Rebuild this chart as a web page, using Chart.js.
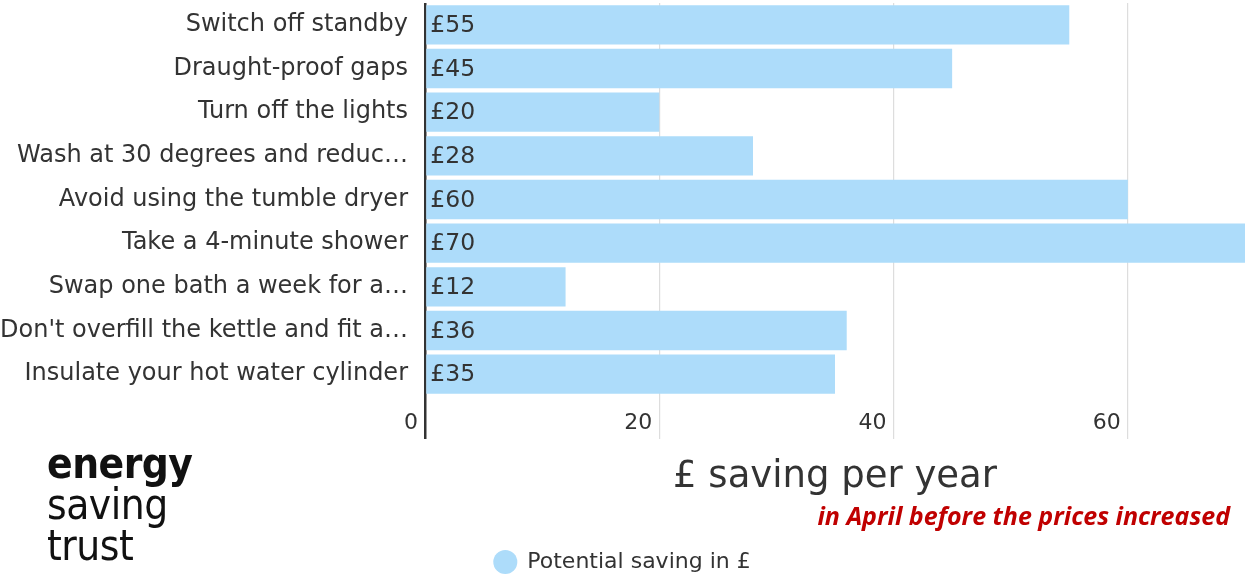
<!DOCTYPE html>
<html lang="en">
<head>
    <meta charset="UTF-8">
    <title>Energy saving tips</title>
    <script src="https://cdn.jsdelivr.net/npm/chart.js"></script>
    <style>
        html, body { margin: 0; padding: 0; background: #fff; }
        .tudo { position: relative; width: 1245px; height: 579px; overflow: hidden; }
        #grafico_poupanca { position: absolute; left: 0; top: 0; }
        .logo { position: absolute; left: 47px; top: 443px; font-family: "DejaVu Sans Condensed", "DejaVu Sans", sans-serif; font-size: 42px; line-height: 41px; color: #111; letter-spacing: -0.5px; }
        .logo b { font-weight: bold; }
        .aviso { position: absolute; right: 15px; top: 498px; font-family: "Open Sans", sans-serif; font-size: 25px; font-weight: bold; font-style: italic; color: #c00000; }
    </style>
</head>
<body>
<div class="tudo">
    <canvas id="grafico_poupanca" width="1245" height="579"></canvas>
    <div class="logo"><b>energy</b><br>saving<br>trust</div>
    <div class="aviso">in April before the prices increased</div>
</div>
<script>
    // dados do grafico
    const categorias = [
        'Switch off standby',
        'Draught-proof gaps',
        'Turn off the lights',
        'Wash at 30 degrees and reduc…',
        'Avoid using the tumble dryer',
        'Take a 4-minute shower',
        'Swap one bath a week for a…',
        "Don't overfill the kettle and fit a…",
        'Insulate your hot water cylinder'
    ];
    const economia = [55, 45, 20, 28, 60, 70, 12, 36, 35];
    const ticksX = [0, 20, 40, 60];

    const fonte = '"DejaVu Sans", sans-serif';
    const corTexto = '#333333';

    // escreve o valor em £ dentro de cada barra
    const rotulos = {
        id: 'rotulos',
        afterDatasetsDraw(chart) {
            const ctx = chart.ctx;
            const meta = chart.getDatasetMeta(0);
            ctx.save();
            ctx.font = '23.5px ' + fonte;
            ctx.fillStyle = corTexto;
            ctx.textAlign = 'left';
            ctx.textBaseline = 'middle';
            meta.data.forEach(function (barra, i) {
                ctx.fillText('£' + economia[i], barra.base + 4, barra.y + 1);
            });
            ctx.restore();
        }
    };

    const config = {
        type: 'bar',
        data: {
            labels: categorias,
            datasets: [{
                label: 'Potential saving in £',
                data: economia,
                backgroundColor: '#addcfa',
                borderWidth: 0,
                barPercentage: 1,
                categoryPercentage: 0.9
            }]
        },
        options: {
            indexAxis: 'y',
            responsive: false,
            animation: false,
            layout: { padding: { top: 3, right: 0, bottom: -4, left: 0 } },
            scales: {
                x: {
                    min: 0,
                    max: 70,
                    afterBuildTicks: function (scale) {
                        scale.ticks = ticksX.map(function (v) { return { value: v }; });
                    },
                    afterFit: function (scale) { scale.height = 145; },
                    border: { display: false },
                    grid: {
                        color: function (c) { return c.tick && c.tick.value === 0 ? '#333333' : '#dddddd'; },
                        lineWidth: function (c) { return c.tick && c.tick.value === 0 ? 2.5 : 1.2; },
                        drawTicks: true,
                        tickLength: 43
                    },
                    ticks: {
                        align: 'end',
                        padding: -29,
                        color: corTexto,
                        font: { family: fonte, size: 22 },
                        callback: function (v) { return v + ' '; }
                    },
                    title: {
                        display: true,
                        text: '£ saving per year',
                        color: corTexto,
                        font: { family: fonte, size: 37 },
                        padding: { top: 0, bottom: 41 }
                    }
                },
                y: {
                    afterFit: function (scale) {
                        scale.width = 425;
                        scale.paddingTop = 0;
                        scale.paddingBottom = 0;
                    },
                    border: { display: false },
                    grid: { display: false, drawTicks: false },
                    ticks: {
                        padding: 17,
                        color: corTexto,
                        font: { family: fonte, size: 24 }
                    }
                }
            },
            plugins: {
                legend: {
                    position: 'bottom',
                    labels: {
                        usePointStyle: true,
                        pointStyle: 'circle',
                        boxHeight: 17,
                        color: corTexto,
                        font: { family: fonte, size: 22 }
                    }
                },
                tooltip: { enabled: false }
            }
        },
        plugins: [rotulos]
    };

    let grafico = new Chart(document.getElementById('grafico_poupanca'), config);
</script>
</body>
</html>
